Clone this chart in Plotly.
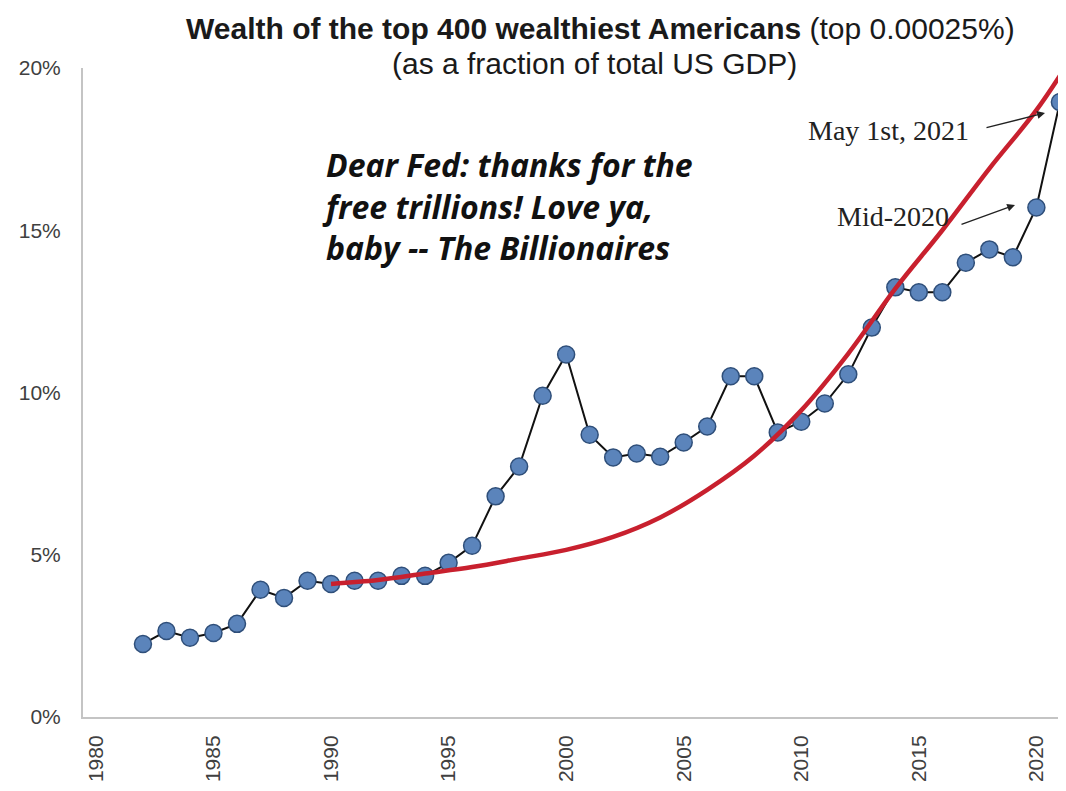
import plotly.graph_objects as go

years = list(range(1982, 2022))
wealth_pct = [2.25, 2.65, 2.44, 2.59, 2.87, 3.92, 3.67, 4.20, 4.10, 4.20,
              4.20, 4.35, 4.35, 4.75, 5.28, 6.80, 7.72, 9.90, 11.17, 8.70,
              8.00, 8.12, 8.02, 8.46, 8.95, 10.50, 10.50, 8.77, 9.10, 9.66,
              10.56, 12.00, 13.24, 13.09, 13.09, 14.00, 14.41, 14.17, 15.70, 18.95]

trend_years = [1990, 1992, 1994, 1996, 1998, 2000, 2002, 2004, 2006, 2008,
               2010, 2012, 2014, 2016, 2018, 2020, 2021.3]
trend_pct = [4.10, 4.22, 4.42, 4.62, 4.88, 5.15, 5.55, 6.15, 7.00, 8.05,
             9.45, 11.20, 13.20, 15.00, 16.90, 18.70, 20.10]

x_ticks = [1980, 1985, 1990, 1995, 2000, 2005, 2010, 2015, 2020]
y_ticks = [0, 5, 10, 15, 20]
y_tick_text = ["0%", "5%", "10%", "15%", "20%"]

# page has an 8px body margin; size the figure to fit the 1066x791 window
OFF = 8
W, H = 1066 - OFF, 791 - OFF
L, R, T, B = 83 - OFF, 0, 68 - OFF, 74
PW, PH = W - L - R, H - T - B

fig = go.Figure()

fig.add_trace(go.Scatter(
    x=years, y=wealth_pct, mode="lines+markers",
    line=dict(color="#111111", width=2),
    marker=dict(size=17, color="#5b84bb", line=dict(color="#2f4f7a", width=1.5)),
    showlegend=False, hoverinfo="skip"))

fig.add_trace(go.Scatter(
    x=trend_years, y=trend_pct, mode="lines",
    line=dict(color="#c8202e", width=4.5, shape="spline", smoothing=1.0),
    showlegend=False, hoverinfo="skip"))

fig.update_layout(
    width=W, height=H,
    margin=dict(l=L, r=R, t=T, b=B, pad=0),
    paper_bgcolor="white", plot_bgcolor="white",
    font=dict(family="Liberation Sans, Arial, sans-serif", color="#404040"),
    xaxis=dict(range=[1979.45, 2021.26], tickvals=x_ticks, tickangle=-90,
               showgrid=False, zeroline=False, showline=True, linecolor="#c4c4c4",
               linewidth=2, ticks="", tickfont=dict(size=21, color="#404040"),
               ticklabelstandoff=8),
    yaxis=dict(range=[0, 20], tickvals=y_ticks, ticktext=y_tick_text,
               showgrid=False, zeroline=False, showline=True, linecolor="#c4c4c4",
               linewidth=2, ticks="", tickfont=dict(size=21, color="#404040"),
               ticklabelstandoff=16),
)


def fx(page_x):
    return (page_x - OFF - L) / PW


def fy(page_y):
    return (H - B - (page_y - OFF)) / PH


annots = [
    dict(text="<b>Wealth of the top 400 wealthiest Americans</b> (top 0.00025%)",
         x=fx(600), y=fy(29), xanchor="center", yanchor="middle", showarrow=False,
         font=dict(size=30, color="#1a1a1a", family="Liberation Sans, Arial, sans-serif")),
    dict(text="(as a fraction of total US GDP)",
         x=fx(594), y=fy(63), xanchor="center", yanchor="middle", showarrow=False,
         font=dict(size=30, color="#1a1a1a", family="Liberation Sans, Arial, sans-serif")),
    dict(text="<b><i>Dear Fed: thanks for the<br>free trillions! Love ya,<br>baby -- The Billionaires</i></b>",
         x=fx(320), y=fy(206), xanchor="left", yanchor="middle",
         align="left", showarrow=False,
         font=dict(family="Open Sans, Lato, sans-serif", size=32, color="#111111")),
    dict(text="May 1st, 2021", x=fx(888), y=fy(131), xanchor="center", yanchor="middle",
         showarrow=False, font=dict(family="Liberation Serif, Times New Roman, serif", size=28, color="#222222")),
    dict(text="Mid-2020", x=fx(893), y=fy(216), xanchor="center", yanchor="middle",
         showarrow=False, font=dict(family="Liberation Serif, Times New Roman, serif", size=28, color="#222222")),
    dict(text="", x=fx(1045), y=fy(113), ax=-60, ay=15, showarrow=True,
         arrowhead=2, arrowsize=1.2, arrowwidth=1.3, arrowcolor="#222222"),
    dict(text="", x=fx(1015), y=fy(205), ax=-55, ay=20, showarrow=True,
         arrowhead=2, arrowsize=1.2, arrowwidth=1.3, arrowcolor="#222222"),
]
for a in annots:
    a.setdefault("xref", "paper")
    a.setdefault("yref", "paper")
    fig.add_annotation(**a)

fig.write_html("out.html")
